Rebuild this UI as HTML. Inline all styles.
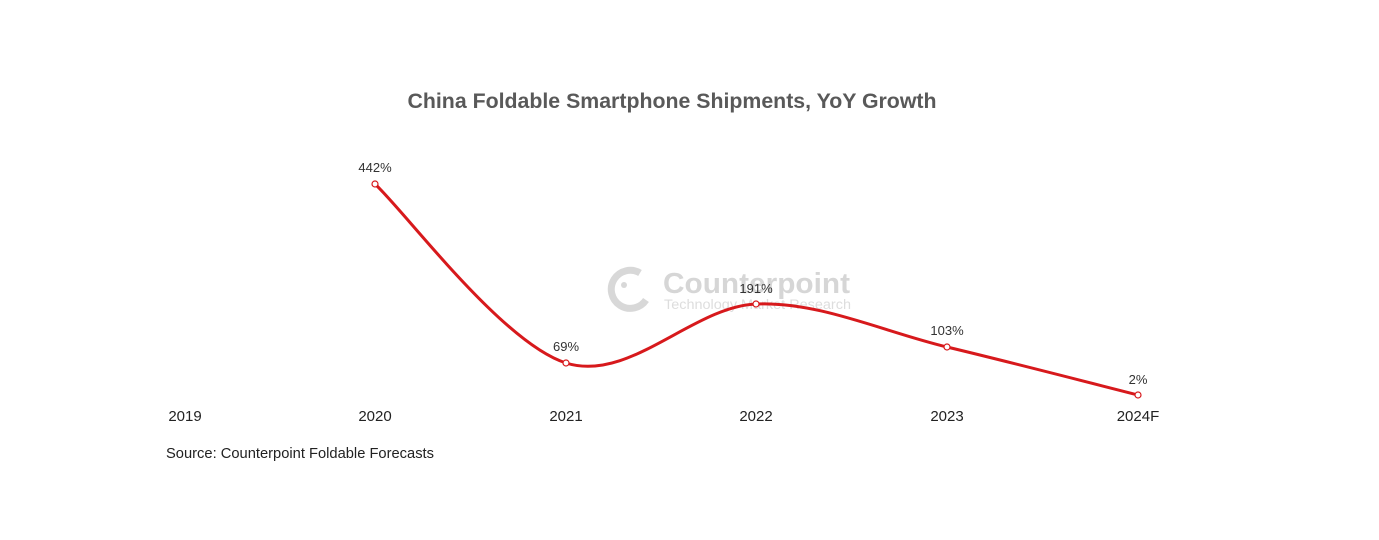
<!DOCTYPE html>
<html><head><meta charset="utf-8"><style>
html,body{margin:0;padding:0;background:#fff;}
svg{display:block;font-family:"Liberation Sans",Arial,sans-serif;}
</style></head><body>
<svg width="1379" height="540" viewBox="0 0 1379 540">
<rect width="1379" height="540" fill="#fff"/>
<text x="672" y="108" text-anchor="middle" font-size="21" font-weight="bold" fill="#595959" textLength="529" lengthAdjust="spacingAndGlyphs">China Foldable Smartphone Shipments, YoY Growth</text>
<g opacity="0.9">
<path d="M640,273 A19,19 0 1 0 646,300" fill="none" stroke="#d4d4d4" stroke-width="7"/>
<circle cx="624" cy="285" r="3" fill="#d4d4d4"/>
<text x="663" y="293" font-size="29" font-weight="bold" fill="#d2d2d2" textLength="187" lengthAdjust="spacingAndGlyphs">Counterpoint</text>
<text x="664" y="309" font-size="13.5" fill="#dadada" textLength="187" lengthAdjust="spacingAndGlyphs">Technology Market Research</text>
</g>
<path d="M375,184 C406.8,213.8 502.5,343 566,363 C629.5,383 692.5,306.7 756,304 C819.5,301.3 883.3,331.8 947,347 C1010.7,362.2 1106.2,387 1138,395" fill="none" stroke="#d7191c" stroke-width="3"/>
<g fill="#fff" stroke="#d7191c" stroke-width="1.2">
<circle cx="375" cy="184" r="3"/><circle cx="566" cy="363" r="3"/><circle cx="756" cy="304" r="3"/><circle cx="947" cy="347" r="3"/><circle cx="1138" cy="395" r="3"/>
</g>
<g font-size="13" fill="#333" text-anchor="middle">
<text x="375" y="172">442%</text>
<text x="566" y="351">69%</text>
<text x="756" y="293">191%</text>
<text x="947" y="335">103%</text>
<text x="1138" y="384">2%</text>
</g>
<g font-size="15" fill="#222" text-anchor="middle">
<text x="185" y="421">2019</text>
<text x="375" y="421">2020</text>
<text x="566" y="421">2021</text>
<text x="756" y="421">2022</text>
<text x="947" y="421">2023</text>
<text x="1138" y="421">2024F</text>
</g>
<text x="166" y="458" font-size="14.5" fill="#222" textLength="268" lengthAdjust="spacingAndGlyphs">Source: Counterpoint Foldable Forecasts</text>
</svg>
</body></html>
